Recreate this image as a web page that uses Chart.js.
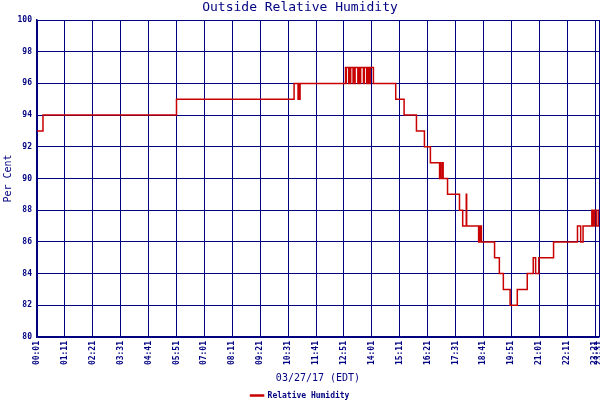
<!DOCTYPE html>
<html>
<head>
<meta charset="utf-8">
<script src="https://cdn.jsdelivr.net/npm/chart.js@4/dist/chart.umd.min.js"></script>
<style>
  html, body { margin: 0; padding: 0; background: #ffffff; }
  #wrap { width: 600px; height: 400px; }
</style>
</head>
<body>
<div id="wrap"><canvas id="c" width="600" height="400"></canvas></div>
<script>
// ---- data (time of change, humidity %) ----
const changeTimes = [
  '00:01','00:16','05:51','10:46','10:56','10:57','10:58','11:01',
  '12:55','12:56','12:57','13:03','13:05','13:06','13:08','13:14','13:16','13:17','13:19','13:26',
  '13:29','13:30','13:33','13:40','13:42','13:48','13:50','13:53','13:54','13:56','13:57','14:05',
  '15:01','15:22','15:53','16:13','16:28','16:51','16:53','16:55','16:59','17:00','17:11','17:41',
  '17:49','17:58','17:59','18:29','18:30','18:32','18:34','18:36','19:09','19:21','19:31','19:48',
  '20:06','20:31','20:46','20:52','21:00','21:37','22:37','22:45','22:51','23:13','23:15','23:16',
  '23:18','23:19','23:24','23:29','23:31'
];
const humidity = [
  93, 94, 95, 96, 95, 96, 95, 96,
  97, 96, 97, 96, 97, 96, 97, 96, 97, 96, 97, 96,
  97, 96, 97, 96, 97, 96, 97, 96, 97, 96, 97, 96,
  95, 94, 93, 92, 91, 90, 91, 90, 91, 90, 89, 88,
  87, 89, 87, 86, 87, 86, 87, 86, 85, 84, 83, 82,
  83, 84, 85, 84, 85, 86, 87, 86, 87, 88, 87, 88,
  87, 88, 87, 88, 88
];
const tickLabels = ['00:01','01:11','02:21','03:31','04:41','05:51','07:01','08:11','09:21','10:31',
  '11:41','12:51','14:01','15:11','16:21','17:31','18:41','19:51','21:01','22:11','23:21','23:31'];
const yTicks = [80, 82, 84, 86, 88, 90, 92, 94, 96, 98, 100];
const seriesName = 'Relative Humidity';
const titleText = 'Outside Relative Humidity';
const xTitle = '03/27/17 (EDT)';
const yTitle = 'Per Cent';

const toMin = s => parseInt(s.slice(0, 2), 10) * 60 + parseInt(s.slice(3), 10);
const fmt = m => String(Math.floor(m / 60)).padStart(2, '0') + ':' + String(m % 60).padStart(2, '0');
const points = changeTimes.map((t, i) => ({ x: toMin(t), y: humidity[i] }));
const tickValues = tickLabels.map(toMin);

const NAVY = '#000080';
const RED = '#c80000';
const MONO = "'DejaVu Sans Mono', 'Liberation Mono', monospace";

new Chart(document.getElementById('c'), {
  type: 'line',
  data: {
    datasets: [{
      label: seriesName,
      data: points,
      stepped: 'before',
      borderColor: RED,
      backgroundColor: RED,
      borderWidth: 1.5,
      pointRadius: 0,
      tension: 0,
      fill: false
    }]
  },
  options: {
    responsive: false,
    devicePixelRatio: 1,
    animation: false,
    layout: { padding: { left: 0, right: 0, top: 0, bottom: 0 } },
    plugins: {
      title: {
        display: true,
        text: titleText,
        color: NAVY,
        font: { family: MONO, size: 13, weight: 'normal' },
        padding: { top: 0, bottom: 4.4 }
      },
      legend: {
        display: true,
        position: 'bottom',
        maxHeight: 10,
        labels: {
          color: NAVY,
          font: { family: MONO, size: 8, weight: 'bold' },
          boxWidth: 13,
          boxHeight: 1,
          padding: 1.5
        }
      },
      tooltip: { enabled: false }
    },
    scales: {
      x: {
        type: 'linear',
        min: tickValues[0],
        max: tickValues[tickValues.length - 1],
        afterBuildTicks: (scale) => { scale.ticks = tickValues.map(v => ({ value: v })); },
        afterFit: (scale) => { scale.height = 53; scale.paddingRight = 1; scale.paddingLeft = 0; },
        ticks: {
          autoSkip: false,
          minRotation: 90,
          maxRotation: 90,
          padding: 4,
          color: NAVY,
          font: { family: MONO, size: 8, weight: 'bold' },
          callback: (v) => fmt(v)
        },
        grid: { color: NAVY, lineWidth: 1, drawTicks: false },
        border: { display: true, color: NAVY, width: 1.5 },
        title: {
          display: true,
          text: xTitle,
          color: NAVY,
          font: { family: MONO, size: 10, weight: 'normal' },
          padding: { top: 0, bottom: 6 }
        }
      },
      y: {
        min: yTicks[0],
        max: yTicks[yTicks.length - 1],
        afterBuildTicks: (scale) => { scale.ticks = yTicks.map(v => ({ value: v })); },
        afterFit: (scale) => { scale.width = 37; },
        ticks: {
          padding: 5,
          color: NAVY,
          font: { family: MONO, size: 8, weight: 'bold' }
        },
        grid: { color: NAVY, lineWidth: 1, drawTicks: false },
        border: { display: true, color: NAVY, width: 1.5 },
        title: {
          display: true,
          text: yTitle,
          color: NAVY,
          font: { family: MONO, size: 10, weight: 'normal' },
          padding: { top: 2, bottom: 0 }
        }
      }
    }
  }
});
</script>
</body>
</html>
